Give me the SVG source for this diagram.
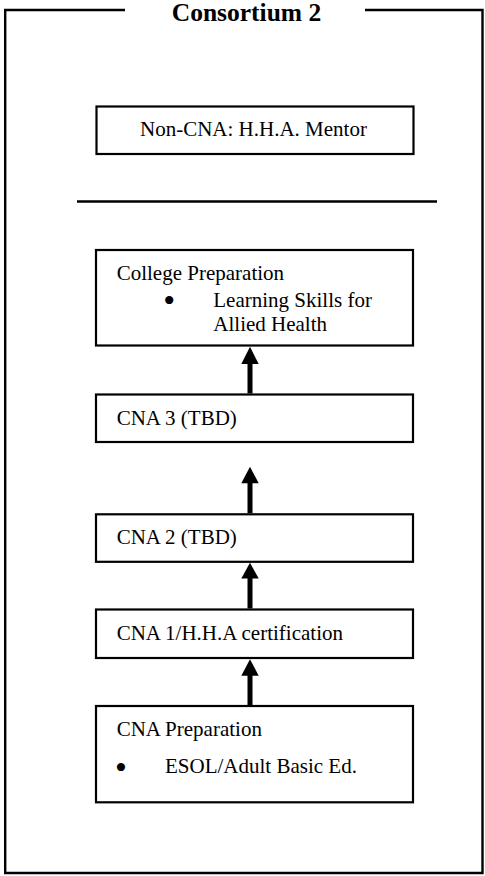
<svg xmlns="http://www.w3.org/2000/svg" width="485" height="876" viewBox="0 0 485 876">
<style>
.box{fill:#fff;stroke:#000;stroke-width:2.2}
.t{font-family:"Liberation Serif","Times New Roman",serif;font-size:21px;fill:#000}
.b{font-family:"Liberation Serif","Times New Roman",serif;font-size:34px;fill:#000}
.title{font-family:"Liberation Serif","Times New Roman",serif;font-size:25.5px;font-weight:bold;fill:#000}
.frame{fill:none;stroke:#000;stroke-width:2.4}
.shaft{stroke:#000;stroke-width:5;fill:none}
.head{fill:#000}
</style>
<rect width="485" height="876" fill="#fff"/>
<g id="frame">
<polyline class="frame" points="125,10 5.2,10 5.2,873 482.5,873 482.5,10 365,10"/>
<text class="title" x="246.5" y="20.5" text-anchor="middle">Consortium 2</text>
<line x1="77" y1="201.5" x2="437" y2="201.5" stroke="#000" stroke-width="2.6"/>
</g>
<g id="node-mentor">
<rect class="box" x="96.5" y="106.5" width="317" height="47.5"/>
<text class="t" x="140" y="136">Non-CNA: H.H.A. Mentor</text>
</g>
<g id="node-college">
<rect class="box" x="96" y="250" width="317" height="95.5"/>
<text class="t" x="116.7" y="279.5">College Preparation</text>
<text class="b" x="163.3" y="311.5">•</text>
<text class="t" x="213.3" y="306.5">Learning Skills for</text>
<text class="t" x="213.3" y="330.5">Allied Health</text>
</g>
<g id="node-cna3">
<rect class="box" x="96" y="394.5" width="317" height="47.5"/>
<text class="t" x="116.7" y="425">CNA 3 (TBD)</text>
</g>
<g id="node-cna2">
<rect class="box" x="96" y="514.3" width="317" height="47.5"/>
<text class="t" x="116.7" y="544">CNA 2 (TBD)</text>
</g>
<g id="node-cna1">
<rect class="box" x="96" y="609.5" width="317" height="48.5"/>
<text class="t" x="116.7" y="640">CNA 1/H.H.A certification</text>
</g>
<g id="node-cnaprep">
<rect class="box" x="96" y="706" width="317" height="96.3"/>
<text class="t" x="116.7" y="736">CNA Preparation</text>
<text class="b" x="115" y="779">•</text>
<text class="t" x="165" y="773.3">ESOL/Adult Basic Ed.</text>
</g>
<g id="connectors">
<line class="shaft" x1="250" y1="363" x2="250" y2="393.5"/>
<polygon class="head" points="250,346.7 241.3,364 258.7,364"/>
<line class="shaft" x1="250" y1="482" x2="250" y2="513.3"/>
<polygon class="head" points="250,466.7 241.3,483.3 258.7,483.3"/>
<line class="shaft" x1="250" y1="577" x2="250" y2="608.5"/>
<polygon class="head" points="250,562.8 241.3,578.5 258.7,578.5"/>
<line class="shaft" x1="250" y1="675" x2="250" y2="705"/>
<polygon class="head" points="250,659.3 241.3,675.7 258.7,675.7"/>
</g>
</svg>
